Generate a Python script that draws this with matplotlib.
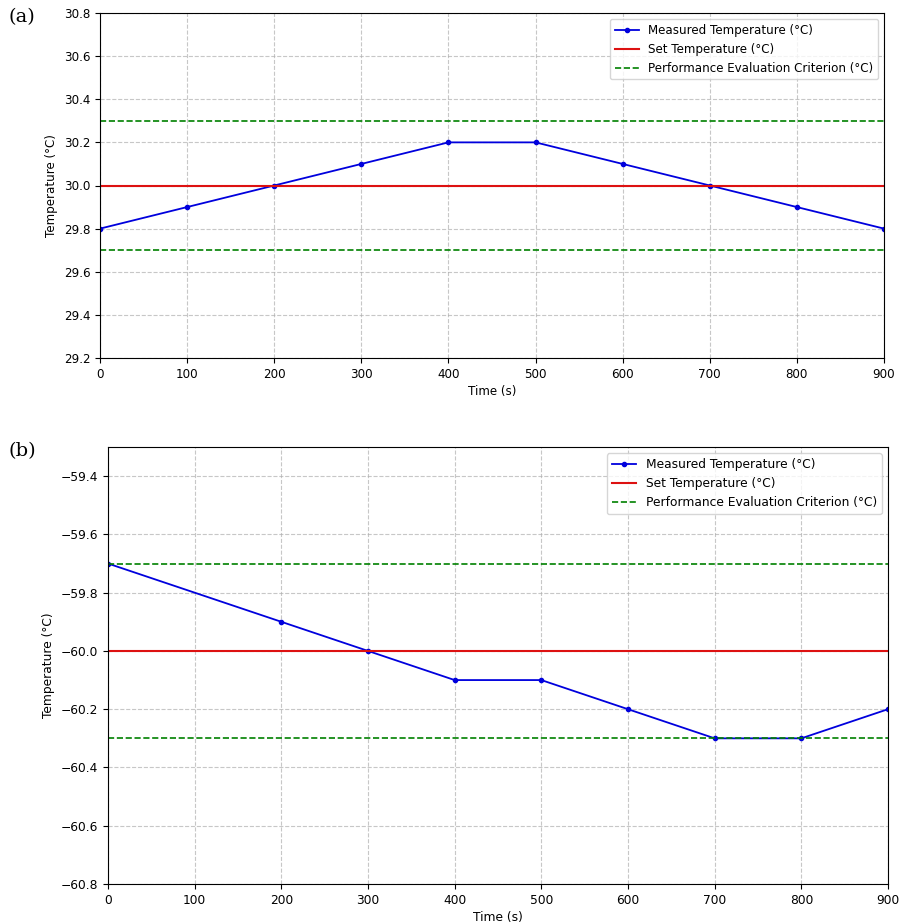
import matplotlib
matplotlib.use('Agg')
import matplotlib.pyplot as plt

# Panel (a): +30 °C test
time_a = [0, 100, 200, 300, 400, 500, 600, 700, 800, 900]
temp_a = [29.8, 29.9, 30.0, 30.1, 30.2, 30.2, 30.1, 30.0, 29.9, 29.8]
set_a = 30.0
crit_a = [30.3, 29.7]
ylim_a = (29.2, 30.8)

# Panel (b): -60 °C test
time_b = [0, 200, 300, 400, 500, 600, 700, 800, 900]
temp_b = [-59.7, -59.9, -60.0, -60.1, -60.1, -60.2, -60.3, -60.3, -60.2]
set_b = -60.0
crit_b = [-59.7, -60.3]
ylim_b = (-60.8, -59.3)

fig = plt.figure(figsize=(9.02, 9.24), dpi=100)
ax_a = fig.add_axes([100/902, 1-358/924, 784/902, 345/924])
ax_b = fig.add_axes([108/902, 1-884/924, 780/902, 437/924])


def draw_panel(ax, t, temp, set_t, crit, ylim, fs):
    ax.plot(t, temp, color='#0000dd', marker='o', markersize=3, linewidth=1.3,
            label='Measured Temperature (°C)')
    ax.axhline(set_t, color='#dd1111', linewidth=1.5, label='Set Temperature (°C)')
    ax.axhline(crit[0], color='green', linestyle='--', linewidth=1.2,
               label='Performance Evaluation Criterion (°C)')
    ax.axhline(crit[1], color='green', linestyle='--', linewidth=1.2)
    ax.set_xlim(0, 900)
    ax.set_ylim(*ylim)
    ax.set_xticks(range(0, 901, 100))
    ax.set_xlabel('Time (s)', fontsize=fs, labelpad=3)
    ax.set_ylabel('Temperature (°C)', fontsize=fs)
    ax.tick_params(labelsize=fs)
    ax.grid(True, linestyle='--', alpha=0.7)
    ax.legend(loc='upper right', fontsize=fs)


draw_panel(ax_a, time_a, temp_a, set_a, crit_a, ylim_a, 8.6)
draw_panel(ax_b, time_b, temp_b, set_b, crit_b, ylim_b, 8.8)

fig.text(8/902, 1-17/924, '(a)', fontsize=14, family='DejaVu Serif', va='center')
fig.text(8/902, 1-451/924, '(b)', fontsize=14, family='DejaVu Serif', va='center')

fig.savefig('out.png', dpi=100)
